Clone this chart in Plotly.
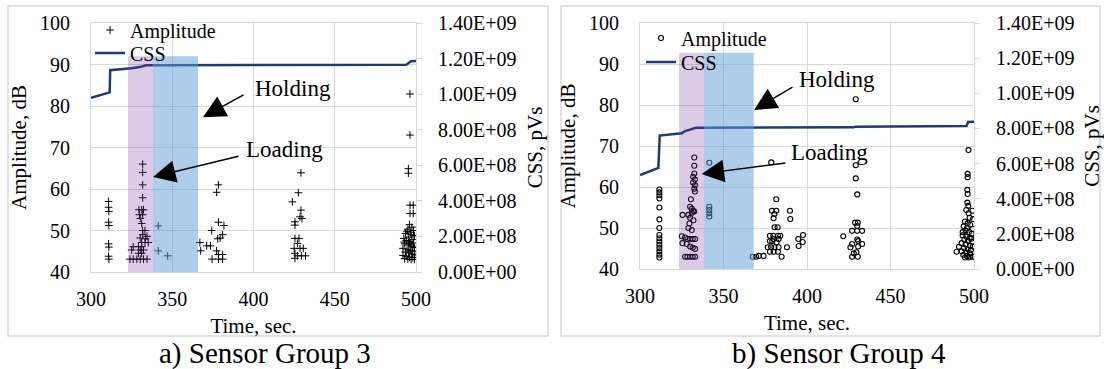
import plotly.graph_objects as go

W, H = 1104, 369
FONT = "'Liberation Serif', Tinos, 'Times New Roman', 'DejaVu Serif', 'Noto Serif', serif"
GRID = "#d9d9d9"
NAVY = "#1f3a78"

# ---------------- Sensor Group 3 ----------------
g3_amp_time = [
    310.8, 310.8, 311.0, 310.8, 311.0, 310.8, 311.0, 310.8, 311.0,
    331.8, 331.8, 331.8, 331.8, 329.5, 331.2, 332.3, 329.8, 331.8, 330.3, 331.2,
    331.8, 333.2, 331.8, 330.3, 333.5, 334.5, 331.2, 333.2, 335.2, 326.0, 329.2,
    331.2, 325.0, 330.3, 332.3, 329.2, 331.2, 324.0, 326.0, 328.2, 330.3, 332.3, 334.5,
    341.4, 341.4, 347.2,
    378.4, 377.3, 378.4, 381.8, 374.3, 381.0, 378.0, 379.5, 367.0, 373.5, 371.2,
    367.5, 377.3, 378.4, 381.0, 374.5, 378.4, 381.0,
    429.2, 427.6, 423.9, 429.2, 428.6, 429.8, 425.5, 425.5, 425.5, 428.0, 427.0,
    425.0, 428.6, 430.6, 425.5, 427.0, 429.5, 432.0, 425.5,
    496.3, 496.3, 495.3, 495.3, 496.3, 498.3, 496.3, 498.3,
    496.0, 497.5, 495.0, 498.5, 496.5, 493.5, 497.0, 499.0, 495.5, 492.5, 497.5,
    494.0, 496.0, 498.5, 493.0, 495.5, 497.5, 499.0, 492.0, 494.5, 496.5, 498.0,
    493.5, 495.5, 497.5, 499.2, 492.0, 494.0, 496.0, 498.0, 493.0, 495.0, 497.0,
    499.0, 496.5, 494.5, 492.8, 498.8,
]
g3_amp = [
    57.0, 55.6, 54.6, 52.0, 51.2, 46.8, 46.0, 43.8, 43.1,
    66.0, 64.0, 61.0, 57.9, 55.0, 55.0, 55.0, 53.8, 53.8, 52.9, 51.7,
    50.0, 50.0, 49.0, 48.2, 48.0, 48.6, 47.1, 47.1, 47.1, 46.1, 46.1,
    46.1, 45.3, 45.3, 45.3, 44.5, 44.5, 43.1, 43.1, 43.1, 43.1, 43.1, 43.1,
    51.1, 45.1, 43.9,
    61.0, 59.2, 52.0, 51.2, 50.0, 49.0, 48.0, 48.2, 47.1, 46.3, 46.3,
    45.1, 45.1, 44.2, 44.2, 43.1, 43.1, 43.1,
    63.9, 59.1, 56.9, 54.9, 53.3, 52.9, 52.1, 51.3, 48.1, 48.1, 46.9,
    45.7, 45.7, 45.7, 44.5, 43.9, 43.9, 43.9, 43.3,
    82.9, 73.0, 64.9, 63.8, 56.1, 56.1, 54.1, 54.1,
    51.4, 50.8, 50.3, 50.0, 49.6, 49.3, 49.0, 48.7, 48.4, 48.1, 47.8,
    47.6, 47.3, 47.0, 46.8, 46.5, 46.2, 45.9, 45.7, 45.5, 45.2, 45.0,
    44.8, 44.6, 44.3, 44.1, 44.0, 43.8, 43.6, 43.5, 43.2, 43.1, 43.0,
    43.0, 46.8, 49.8, 47.2, 48.8,
]
g3_css_time = [300, 310, 311.5, 311.8, 318, 325, 330, 334, 340, 400, 450, 494, 495.5, 497, 500]
g3_css = [0.980e9, 1.005e9, 1.010e9, 1.135e9, 1.138e9, 1.145e9, 1.152e9, 1.162e9,
          1.163e9, 1.164e9, 1.165e9, 1.165e9, 1.175e9, 1.185e9, 1.187e9]

# ---------------- Sensor Group 4 ----------------
g4_amp_time = [
    311.6, 311.6, 311.6, 311.6, 311.6, 311.6, 311.6, 311.6, 311.6, 311.6, 311.6,
    311.6, 311.6, 311.6, 311.6,
    332.5, 332.5, 332.5, 331.8, 332.9, 331.8, 332.9, 332.5, 332.9,
    330.5, 330.0, 331.0, 332.0, 325.5, 329.0, 331.0, 332.4, 330.0, 332.0, 329.6,
    329.0, 331.0, 325.0, 327.0, 328.4, 330.0, 331.6, 333.0, 325.4, 328.0, 330.0,
    331.6, 333.0, 327.0, 328.4, 330.0, 331.6, 333.0,
    341.5, 341.5, 341.5, 341.5, 341.5,
    381.6, 379.0, 381.6, 380.5, 389.8, 380.0, 390.0, 380.6, 382.4, 377.8, 379.8,
    382.6, 384.0, 380.0, 383.0, 377.8, 379.2, 381.8, 397.6, 394.8, 376.5, 378.5,
    380.5, 383.0, 388.0, 395.0, 397.4, 377.8, 380.0, 382.6, 367.5, 369.5, 371.2,
    374.0, 384.8, 378.6,
    429.2, 429.2, 429.2, 430.1, 428.8, 430.4, 430.1, 427.0, 430.0, 433.0, 421.7,
    430.1, 430.6, 427.0, 433.0, 426.0, 430.6, 429.6, 428.0, 427.0, 430.4,
    496.7, 496.2, 496.2, 496.0, 496.2, 496.0, 496.6, 495.4, 499.0, 496.8, 497.4,
    499.4, 494.6, 496.2, 497.8, 493.8, 495.8, 499.2, 495.0, 497.0, 498.6, 493.2,
    495.4, 497.4, 494.2, 496.4, 499.0, 492.6, 495.0, 497.6, 491.0, 494.0, 496.2,
    498.2, 489.6, 492.6, 495.4, 497.6, 493.6, 495.8, 497.8, 499.2, 494.6, 496.8,
    498.4, 493.2, 499.4,
]
g4_amp = [
    59.4, 58.7, 58.0, 57.2, 55.0, 52.1, 50.0, 48.3, 47.5, 46.7, 45.9,
    45.1, 44.3, 43.5, 42.8,
    67.2, 65.2, 63.3, 62.5, 61.8, 61.1, 60.4, 59.6, 58.9,
    57.0, 55.2, 54.7, 54.2, 53.2, 53.2, 53.7, 54.0, 52.5, 51.9, 51.1,
    50.0, 49.5, 48.0, 47.7, 47.3, 47.3, 47.3, 47.3, 46.3, 46.1, 45.5,
    45.2, 44.9, 43.0, 43.0, 43.0, 43.0, 43.0,
    65.9, 55.2, 54.4, 53.6, 52.8,
    57.0, 54.2, 54.2, 53.4, 54.2, 52.4, 52.2, 50.2, 50.2, 48.1, 48.1,
    48.1, 48.1, 47.3, 47.3, 46.8, 46.8, 46.5, 48.3, 47.3, 45.3, 45.3,
    45.3, 45.3, 45.3, 45.6, 46.6, 44.2, 44.2, 44.2, 43.0, 43.0, 43.2,
    43.2, 43.0, 66.0,
    81.4, 65.3, 62.1, 58.2, 51.3, 51.3, 50.5, 49.3, 49.3, 49.3, 48.0,
    47.2, 46.8, 46.1, 46.1, 45.3, 45.5, 44.1, 43.8, 43.0, 43.0,
    69.0, 63.2, 62.4, 59.3, 58.3, 56.2, 55.4, 54.4, 54.2, 53.6, 52.5,
    52.2, 51.6, 51.2, 50.8, 50.4, 50.0, 49.8, 49.4, 49.0, 48.6, 48.2,
    47.9, 47.6, 47.2, 46.9, 46.6, 46.3, 46.0, 45.7, 45.4, 45.1, 44.8,
    44.6, 44.2, 44.3, 44.0, 43.8, 43.4, 43.2, 43.0, 43.0, 42.8, 42.8,
    47.4, 49.0, 45.5,
]
g4_css_time = [300, 311, 311.8, 325, 327, 333.5, 428, 429, 495.5, 496.5, 500]
g4_css = [0.535e9, 0.575e9, 0.759e9, 0.773e9, 0.785e9, 0.804e9, 0.806e9,
          0.810e9, 0.814e9, 0.837e9, 0.838e9]

# Secondary-axis tick labels
css_tick_values = [0, 2e8, 4e8, 6e8, 8e8, 1.0e9, 1.2e9, 1.4e9]
css_tick_labels = ["0.00E+00", "2.00E+08", "4.00E+08", "6.00E+08",
                   "8.00E+08", "1.00E+09", "1.20E+09", "1.40E+09"]

# Loading / holding windows (seconds) and shading top (dB)
g3_loading = (322.8, 338.0)
g3_holding = (338.0, 365.8)
g3_band_top = 92.0
g4_loading = (323.4, 338.3)
g4_holding = (338.3, 368.1)
g4_band_top = 92.75

captions = ["a) Sensor Group 3", "b) Sensor Group 4"]


def px_x(p):
    return p / W


def px_y(p):
    return 1 - p / H


fig = go.Figure()

fig.add_trace(go.Scatter(
    x=g3_amp_time, y=g3_amp, mode="markers", name="Amplitude",
    marker=dict(symbol="cross-thin", size=5.5, color="black",
                line=dict(width=1, color="black")),
    xaxis="x", yaxis="y", legend="legend"))
fig.add_trace(go.Scatter(
    x=g3_css_time, y=g3_css, mode="lines", name="CSS",
    line=dict(color=NAVY, width=2.5),
    xaxis="x", yaxis="y2", legend="legend3"))

fig.add_trace(go.Scatter(
    x=g4_amp_time, y=g4_amp, mode="markers", name="Amplitude",
    marker=dict(symbol="circle-open", size=5, color="black",
                line=dict(width=1.1, color="black")),
    xaxis="x2", yaxis="y3", legend="legend2"))
fig.add_trace(go.Scatter(
    x=g4_css_time, y=g4_css, mode="lines", name="CSS",
    line=dict(color=NAVY, width=2.5),
    xaxis="x2", yaxis="y4", legend="legend4"))

tick_font = dict(family=FONT, size=20, color="black")
title_font = dict(family=FONT, size=21, color="black")


def x_axis(domain, anchor):
    return dict(domain=domain, anchor=anchor, range=[300, 500], tick0=300, dtick=50,
                showgrid=True, gridcolor=GRID, gridwidth=1, zeroline=False,
                showline=True, linecolor=GRID, linewidth=1, mirror=True,
                ticks="", tickfont=tick_font, ticklabelstandoff=9,
                title=dict(text="Time, sec.", font=title_font, standoff=9),
                automargin=False)


def amp_axis(domain, anchor):
    return dict(domain=domain, anchor=anchor, range=[40, 100], dtick=10,
                showgrid=True, gridcolor=GRID, gridwidth=1, zeroline=False,
                showline=True, linecolor=GRID, linewidth=1,
                ticks="", tickfont=tick_font, ticklabelstandoff=16,
                title=dict(text="Amplitude, dB", font=title_font, standoff=7),
                automargin=False)


def css_axis(overlay, anchor):
    return dict(overlaying=overlay, anchor=anchor, side="right", range=[0, 1.4e9],
                tickvals=css_tick_values, ticktext=css_tick_labels,
                showgrid=False, zeroline=False,
                showline=True, linecolor=GRID, linewidth=1,
                ticks="outside", ticklen=5, tickcolor=GRID,
                tickfont=tick_font, ticklabelstandoff=12,
                title=dict(text="CSS, pVs", font=title_font, standoff=11),
                automargin=False)


def one_item_legend(xp, yp):
    return dict(x=px_x(xp), y=px_y(yp), xanchor="left", yanchor="middle",
                bgcolor="rgba(0,0,0,0)", borderwidth=0,
                font=dict(family=FONT, size=20, color="black"),
                itemwidth=30, tracegroupgap=0, visible=True)


fig.update_layout(
    width=W, height=H, template="none", showlegend=True,
    margin=dict(l=0, r=0, t=0, b=0),
    paper_bgcolor="white", plot_bgcolor="white",
    font=dict(family=FONT, color="black"),
    xaxis=x_axis([px_x(91), px_x(416)], "y"),
    yaxis=amp_axis([px_y(272), px_y(23)], "x"),
    yaxis2=css_axis("y", "x"),
    xaxis2=x_axis([px_x(640), px_x(974)], "y3"),
    yaxis3=amp_axis([px_y(269), px_y(23)], "x2"),
    yaxis4=css_axis("y3", "x2"),
    legend=one_item_legend(90, 30),
    legend3=one_item_legend(90, 53),
    legend2=one_item_legend(641, 38),
    legend4=one_item_legend(641, 62),
)

# Loading / holding shading drawn over the markers
for xr, yr, band, top in [("x", "y", (g3_loading, g3_holding), g3_band_top),
                          ("x2", "y3", (g4_loading, g4_holding), g4_band_top)]:
    load, hold = band
    fig.add_shape(type="rect", xref=xr, yref=yr, x0=load[0], x1=load[1], y0=40, y1=top,
                  fillcolor="rgba(112,48,160,0.25)", line_width=0, layer="above")
    fig.add_shape(type="rect", xref=xr, yref=yr, x0=hold[0], x1=hold[1], y0=40, y1=top,
                  fillcolor="rgba(91,155,213,0.5)", line_width=0, layer="above")

# Panel frames
for x0, x1 in [(8, 548), (561, 1100)]:
    fig.add_shape(type="rect", xref="paper", yref="paper",
                  x0=px_x(x0), x1=px_x(x1), y0=px_y(336), y1=px_y(6),
                  line=dict(color=GRID, width=1.5), fillcolor="rgba(0,0,0,0)",
                  layer="below")

note_font = dict(family=FONT, size=23, color="black")
arrow_style = dict(showarrow=True, arrowhead=2, arrowsize=3.0, arrowwidth=1.5,
                   arrowcolor="black", text="")

# Panel a) labels and arrows
fig.add_annotation(xref="x", yref="y", x=424.3, y=84.3, text="Holding",
                   showarrow=False, font=note_font)
fig.add_annotation(xref="x", yref="y", axref="x", ayref="y",
                   x=368.9, y=77.3, ax=394.8, ay=82.9, **arrow_style)
fig.add_annotation(xref="x", yref="y", x=418.8, y=69.6, text="Loading",
                   showarrow=False, font=note_font)
fig.add_annotation(xref="x", yref="y", axref="x", ayref="y",
                   x=338.2, y=62.9, ax=391.7, ay=68.0, **arrow_style)

# Panel b) labels and arrows
fig.add_annotation(xref="x2", yref="y3", x=418.0, y=86.3, text="Holding",
                   showarrow=False, font=note_font)
fig.add_annotation(xref="x2", yref="y3", axref="x2", ayref="y3",
                   x=368.3, y=78.8, ax=392.2, ay=84.6, **arrow_style)
fig.add_annotation(xref="x2", yref="y3", x=413.2, y=68.5, text="Loading",
                   showarrow=False, font=note_font)
fig.add_annotation(xref="x2", yref="y3", axref="x2", ayref="y3",
                   x=336.9, y=63.2, ax=388.0, ay=65.9, **arrow_style)

# Captions under the panels
for cx, text in zip([265, 839], captions):
    fig.add_annotation(xref="paper", yref="paper", x=px_x(cx), y=px_y(353),
                       text=text, showarrow=False, xanchor="center", yanchor="middle",
                       font=dict(family=FONT, size=29, color="black"))

fig.write_html("out.html")
